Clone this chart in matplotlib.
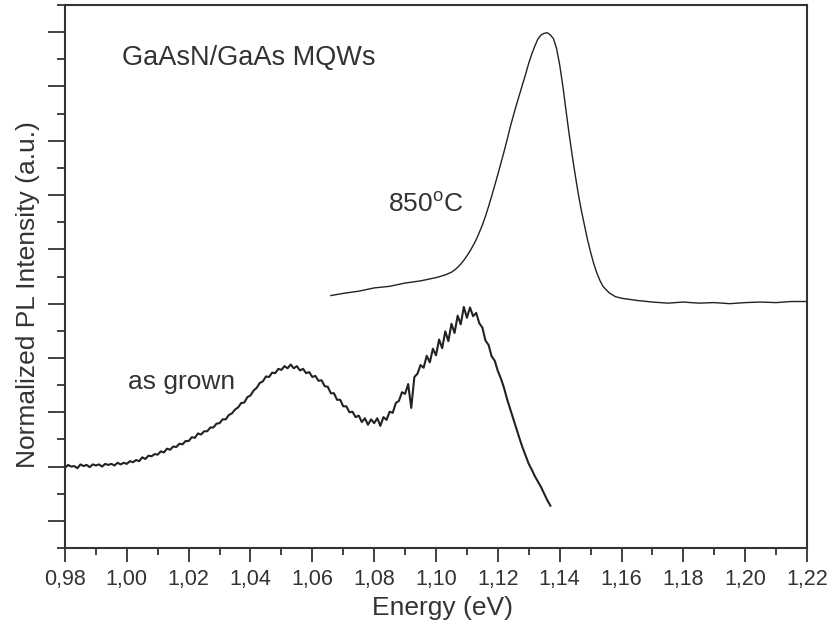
"""
    PL spectra of GaAsN/GaAs MQWs, as grown and annealed at 850 C
"""

import matplotlib
matplotlib.use('Agg')
import matplotlib.pyplot as plt
from matplotlib.ticker import MultipleLocator, FuncFormatter

plt.rcParams['font.family'] = ['Liberation Sans', 'DejaVu Sans']
plt.rcParams['mathtext.fontset'] = 'custom'
plt.rcParams['mathtext.rm'] = 'Liberation Sans'

# as grown spectrum (noisy)
grown_energy = [0.980 + 0.001 * i for i in range(158)]
grown_int = [
    0.98, 1.03, 1.00, 1.01, 0.97, 1.04, 1.01, 1.03, 0.99, 1.04,
    1.02, 1.04, 1.00, 1.05, 1.03, 1.05, 1.02, 1.07, 1.04, 1.07,
    1.05, 1.10, 1.08, 1.12, 1.10, 1.17, 1.14, 1.20, 1.19, 1.23,
    1.22, 1.28, 1.26, 1.33, 1.31, 1.37, 1.36, 1.42, 1.41, 1.47,
    1.47, 1.54, 1.53, 1.61, 1.59, 1.65, 1.65, 1.72, 1.72, 1.79,
    1.80, 1.87, 1.87, 1.95, 1.98, 2.05, 2.09, 2.17, 2.18, 2.28,
    2.31, 2.40, 2.45, 2.54, 2.57, 2.66, 2.65, 2.73, 2.72, 2.80,
    2.78, 2.85, 2.81, 2.88, 2.81, 2.85, 2.77, 2.80, 2.72, 2.74,
    2.65, 2.67, 2.58, 2.59, 2.48, 2.47, 2.35, 2.35, 2.23, 2.23,
    2.11, 2.11, 2.00, 2.01, 1.91, 1.94, 1.82, 1.89, 1.77, 1.87,
    1.80, 1.89, 1.75, 1.91, 1.86, 2.01, 1.99, 2.17, 2.21, 2.37,
    2.34, 2.52, 2.08, 2.65, 2.71, 2.87, 2.82, 3.04, 2.92, 3.17,
    3.05, 3.34, 3.18, 3.49, 3.31, 3.63, 3.46, 3.78, 3.62, 3.94,
    3.74, 3.93, 3.77, 3.83, 3.64, 3.56, 3.32, 3.24, 3.03, 2.95,
    2.76, 2.62, 2.45, 2.24, 2.06, 1.88, 1.70, 1.52, 1.35, 1.20,
    1.05, 0.94, 0.82, 0.72, 0.62, 0.50, 0.38, 0.28,
]

# annealed at 850 C
ann_energy = [1.066, 1.070, 1.075, 1.080, 1.085, 1.090, 1.095, 1.100, 1.103,
              1.105, 1.106, 1.107, 1.108, 1.109, 1.110, 1.111, 1.112, 1.113,
              1.114, 1.115, 1.116, 1.117, 1.118, 1.119, 1.120, 1.121, 1.122,
              1.123, 1.124, 1.125, 1.126, 1.127, 1.128, 1.129, 1.130, 1.131,
              1.132, 1.133, 1.134, 1.135, 1.136, 1.137, 1.138, 1.139, 1.140,
              1.141, 1.142, 1.143, 1.144, 1.145, 1.146, 1.147, 1.148, 1.149,
              1.150, 1.151, 1.152, 1.153, 1.154, 1.156, 1.158, 1.160, 1.165,
              1.170, 1.175, 1.180, 1.185, 1.190, 1.195, 1.200, 1.205, 1.210,
              1.215, 1.220]
ann_int = [4.15, 4.19, 4.23, 4.29, 4.32, 4.38, 4.42, 4.48, 4.53,
           4.58, 4.62, 4.67, 4.73, 4.80, 4.88, 4.97, 5.07, 5.18,
           5.31, 5.45, 5.61, 5.79, 5.98, 6.18, 6.38, 6.59, 6.80,
           7.02, 7.25, 7.46, 7.66, 7.85, 8.04, 8.23, 8.43, 8.60,
           8.75, 8.88, 8.95, 8.98, 8.99, 8.95, 8.88, 8.70, 8.40,
           8.02, 7.58, 7.15, 6.75, 6.38, 6.03, 5.72, 5.45, 5.18,
           4.95, 4.74, 4.57, 4.43, 4.32, 4.20, 4.13, 4.10, 4.06,
           4.03, 4.01, 4.03, 4.01, 4.02, 4.00, 4.02, 4.03, 4.02,
           4.04, 4.04]

xticks = [0.98 + 0.02 * i for i in range(13)]

fig = plt.figure(figsize=(8.3, 6.31), dpi=100)
ax = fig.add_axes([0.0783, 0.1315, 0.894, 0.8605])

ax.plot(grown_energy, grown_int, color='#222222', lw=1.5)
ax.plot(ann_energy, ann_int, color='#222222', lw=1.0)

ax.set_xlim(0.98, 1.22)
ax.set_ylim(-0.5, 9.5)

ax.set_xticks(xticks)
ax.xaxis.set_minor_locator(MultipleLocator(0.01))
ax.xaxis.set_major_formatter(FuncFormatter(lambda v, p: ('%.2f' % v).replace('.', ',')))
ax.yaxis.set_major_locator(MultipleLocator(1))
ax.yaxis.set_minor_locator(MultipleLocator(0.5))
ax.set_yticklabels([])

ax.tick_params(which='major', direction='out', length=10, width=1.3, color='#333333',
               labelsize=15.5, labelcolor='#333333', pad=5)
ax.tick_params(which='minor', direction='out', length=5, width=1.3, color='#333333')
ax.tick_params(axis='y', which='major', length=12)
ax.tick_params(axis='y', which='minor', length=6)

for s in ax.spines.values():
    s.set_color('#333333')
    s.set_linewidth(1.5)

# axis titles placed like in the scanned figure
fig.text(442 / 830, 1 - 608 / 631, 'Energy (eV)', fontsize=19, color='#333333',
         ha='center', va='center')
fig.text(28 / 830, 1 - 295 / 631, 'Normalized PL Intensity (a.u.)', fontsize=19,
         color='#333333', ha='center', va='center', rotation=90)

ax.text(0.9984, 8.53, 'GaAsN/GaAs MQWs', fontsize=19.5, color='#333333', va='center')
ax.text(1.0845, 5.82, '850$^{\\mathrm{o}}$C', fontsize=19, color='#333333', va='center')
ax.text(1.0004, 2.56, 'as grown', fontsize=19, color='#333333', va='center')

plt.savefig('out.png', dpi=100)
